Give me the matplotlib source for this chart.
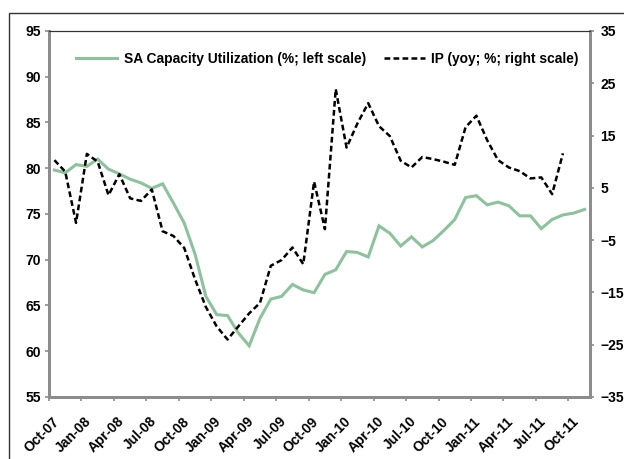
import numpy as np
import matplotlib
matplotlib.use('Agg')
import matplotlib.pyplot as plt
from matplotlib.patches import Rectangle

plt.rcParams['font.family'] = ['Liberation Sans', 'DejaVu Sans']
plt.rcParams['font.weight'] = 'bold'

# monthly, Oct-07 .. Nov-11
cap_util = [79.8, 79.5, 80.4, 80.2, 81.0, 79.9, 79.4, 78.8, 78.4, 77.8,
            78.3, 76.2, 74.0, 70.6, 66.0, 64.0, 63.9, 62.0, 60.6, 63.6,
            65.7, 66.0, 67.3, 66.7, 66.4, 68.4, 68.9, 70.9, 70.8, 70.3,
            73.7, 72.9, 71.5, 72.5, 71.4, 72.1, 73.2, 74.4, 76.8, 77.0,
            76.0, 76.3, 75.9, 74.8, 74.8, 73.4, 74.4, 74.9, 75.1, 75.5]
# Oct-07 .. Sep-11
ip_yoy = [10.3, 8.1, -1.7, 11.5, 10.0, 3.6, 7.6, 3.0, 2.5, 4.7,
          -3.3, -4.2, -6.5, -12.5, -17.8, -21.5, -24.0, -21.5, -19.0, -17.0,
          -9.9, -8.8, -6.4, -9.6, 6.2, -2.9, 23.9, 12.7, 17.3, 21.2,
          16.8, 14.9, 10.2, 8.9, 10.9, 10.5, 10.0, 9.4, 16.6, 18.8,
          14.1, 10.3, 8.9, 8.2, 6.8, 7.0, 3.8, 11.6]
tick_labels = ['Oct-07', 'Jan-08', 'Apr-08', 'Jul-08', 'Oct-08', 'Jan-09',
               'Apr-09', 'Jul-09', 'Oct-09', 'Jan-10', 'Apr-10', 'Jul-10',
               'Oct-10', 'Jan-11', 'Apr-11', 'Jul-11', 'Oct-11']

green = '#8cc29c'
grey = '#8c8c8c'

fig = plt.figure(figsize=(6.24, 4.59), dpi=100)
ax = fig.add_axes([49/624, 1-397/459, 541/624, 366/459])
ax2 = ax.twinx()

x1 = np.arange(len(cap_util))
x2 = np.arange(len(ip_yoy))
l1, = ax.plot(x1, cap_util, color=green, lw=2.2, solid_joinstyle='miter',
              label='SA Capacity Utilization (%; left scale)')
l2, = ax2.plot(x2, ip_yoy, color='black', lw=1.8, linestyle=(0, (2.3, 1.3)),
               label='IP (yoy; %; right scale)')

ax.set_xlim(-0.5, len(cap_util) - 0.5)
ax.set_ylim(55, 95)
ax.set_yticks(np.arange(55, 96, 5))
ax2.set_ylim(-35, 35)
ax2.set_yticks(np.arange(-35, 36, 10))

# tick marks at quarter boundaries, labels sit a bit to the right of them
tick_pos = np.arange(len(tick_labels)) * 3 - 0.5
ax.set_xticks(tick_pos)
ax.set_xticklabels([])
ax.set_xticks(tick_pos + 0.72, minor=True)
ax.set_xticklabels(tick_labels, minor=True, rotation=45, ha='right',
                   va='center', rotation_mode='anchor')

for a in (ax, ax2):
    for s in ('left', 'right', 'bottom'):
        a.spines[s].set_color(grey)
        a.spines[s].set_linewidth(2)
    a.spines['top'].set_color('#333333')
    a.spines['top'].set_linewidth(0.8)
    a.tick_params(axis='both', labelsize=10, colors=grey, length=3, width=1.2,
                  labelcolor='black', direction='out')
ax.tick_params(axis='y', pad=3)
ax2.tick_params(axis='y', pad=4.5)
ax.tick_params(axis='x', which='minor', length=0, pad=16, labelsize=10)

ax.legend(handles=[l1, l2], loc='center left', bbox_to_anchor=(0.04, 0.923),
          ncol=2, frameon=False, fontsize=9.9, handlelength=3.0,
          handletextpad=0.45, columnspacing=1.3, borderaxespad=0)

fig.patches.append(Rectangle((9/624, -0.1), 1.1, 1 - 13/459 + 0.1,
                             transform=fig.transFigure, fill=False,
                             edgecolor='#333333', lw=1))

plt.savefig('out.png', dpi=100)
